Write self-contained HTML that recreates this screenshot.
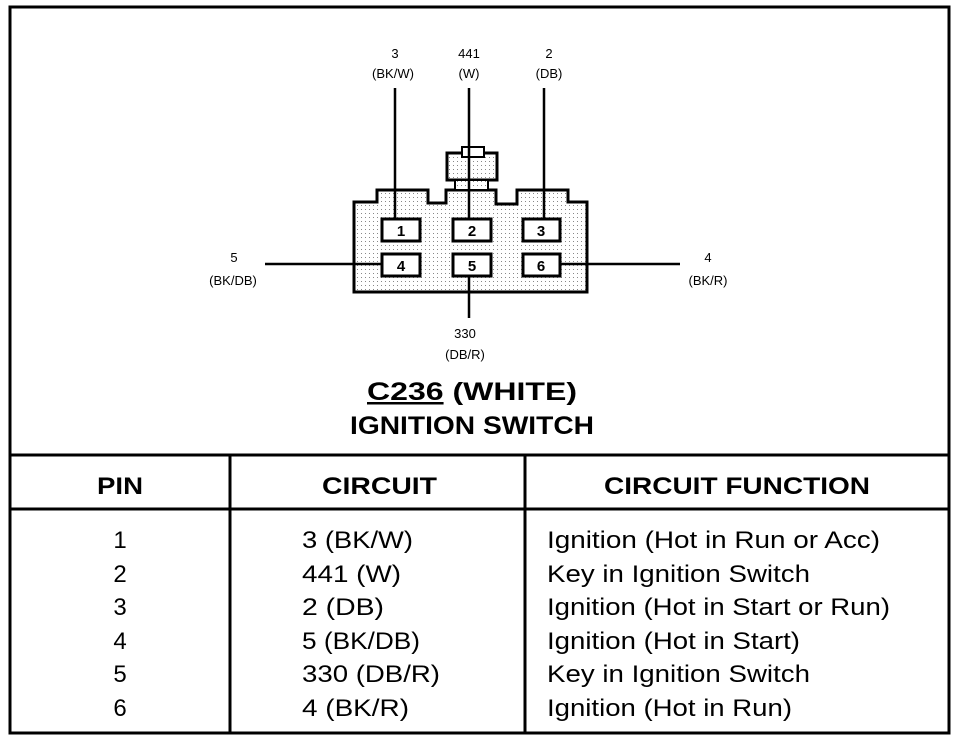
<!DOCTYPE html>
<html><head><style>
body{margin:0;background:#fff}
svg{display:block}
text{font-family:"Liberation Sans",sans-serif;fill:#000}
</style></head><body>
<svg width="960" height="740" viewBox="0 0 960 740">
<defs>
<pattern id="dots" width="4" height="4" patternUnits="userSpaceOnUse">
<rect width="4" height="4" fill="#fff"/><rect x="1" y="1" width="1" height="1" fill="#888"/>
</pattern>
</defs>
<rect x="10" y="7" width="939" height="726" fill="none" stroke="#000" stroke-width="3"/>
<path d="M354,202 L377,202 L377,190 L428,190 L428,203 L446,203 L446,190 L496,190 L496,204 L517,204 L517,190 L568,190 L568,202 L587,202 L587,292 L354,292 Z" fill="url(#dots)" stroke="#000" stroke-width="3"/>
<rect x="447" y="153" width="50" height="27" fill="url(#dots)" stroke="#000" stroke-width="3"/>
<rect x="455" y="180" width="33" height="10" fill="url(#dots)" stroke="#000" stroke-width="2"/>
<rect x="462" y="147" width="22" height="10" fill="#fff" stroke="#000" stroke-width="2"/>
<g stroke="#000" stroke-width="2.5">
<line x1="395" y1="88" x2="395" y2="218"/>
<line x1="469" y1="88" x2="469" y2="218"/>
<line x1="544" y1="88" x2="544" y2="218"/>
<line x1="265" y1="264" x2="381" y2="264"/>
<line x1="561" y1="264" x2="680" y2="264"/>
<line x1="469" y1="277" x2="469" y2="318"/>
</g>
<g fill="#fff" stroke="#000" stroke-width="3">
<rect x="382" y="219" width="38" height="22"/>
<rect x="453" y="219" width="38" height="22"/>
<rect x="523" y="219" width="37" height="22"/>
<rect x="382" y="254" width="38" height="22"/>
<rect x="453" y="254" width="38" height="22"/>
<rect x="523" y="254" width="37" height="22"/>
</g>
<g font-size="15" font-weight="bold" text-anchor="middle">
<text x="401" y="236">1</text><text x="472" y="236">2</text><text x="541" y="236">3</text>
<text x="401" y="271">4</text><text x="472" y="271">5</text><text x="541" y="271">6</text>
</g>
<g font-size="13" text-anchor="middle">
<text x="395" y="58">3</text><text x="393" y="78">(BK/W)</text>
<text x="469" y="58">441</text><text x="469" y="78">(W)</text>
<text x="549" y="58">2</text><text x="549" y="78">(DB)</text>
<text x="234" y="262">5</text><text x="233" y="285">(BK/DB)</text>
<text x="708" y="262">4</text><text x="708" y="285">(BK/R)</text>
<text x="465" y="338">330</text><text x="465" y="359">(DB/R)</text>
</g>
<g font-size="25" font-weight="bold" lengthAdjust="spacingAndGlyphs">
<text x="367" y="400" textLength="210" lengthAdjust="spacingAndGlyphs"><tspan text-decoration="underline">C236</tspan>  (WHITE)</text>
<text x="350" y="434" textLength="244" lengthAdjust="spacingAndGlyphs">IGNITION SWITCH</text>
</g>
<g stroke="#000" stroke-width="3">
<line x1="10" y1="455" x2="949" y2="455"/>
<line x1="10" y1="509" x2="949" y2="509"/>
<line x1="230" y1="455" x2="230" y2="733"/>
<line x1="525" y1="455" x2="525" y2="733"/>
</g>
<g font-size="24" font-weight="bold">
<text x="97" y="494" textLength="46" lengthAdjust="spacingAndGlyphs">PIN</text>
<text x="322" y="494" textLength="115" lengthAdjust="spacingAndGlyphs">CIRCUIT</text>
<text x="604" y="494" textLength="266" lengthAdjust="spacingAndGlyphs">CIRCUIT FUNCTION</text>
</g>
<g font-size="24" text-anchor="middle">
<text x="120" y="548">1</text><text x="120" y="582">2</text><text x="120" y="615">3</text>
<text x="120" y="649">4</text><text x="120" y="682">5</text><text x="120" y="716">6</text>
</g>
<g font-size="24">
<text x="302" y="548" textLength="111" lengthAdjust="spacingAndGlyphs">3 (BK/W)</text>
<text x="302" y="582" textLength="99" lengthAdjust="spacingAndGlyphs">441 (W)</text>
<text x="302" y="615" textLength="82" lengthAdjust="spacingAndGlyphs">2 (DB)</text>
<text x="302" y="649" textLength="118" lengthAdjust="spacingAndGlyphs">5 (BK/DB)</text>
<text x="302" y="682" textLength="138" lengthAdjust="spacingAndGlyphs">330 (DB/R)</text>
<text x="302" y="716" textLength="107" lengthAdjust="spacingAndGlyphs">4 (BK/R)</text>
<text x="547" y="548" textLength="333" lengthAdjust="spacingAndGlyphs">Ignition (Hot in Run or Acc)</text>
<text x="547" y="582" textLength="263" lengthAdjust="spacingAndGlyphs">Key in Ignition Switch</text>
<text x="547" y="615" textLength="343" lengthAdjust="spacingAndGlyphs">Ignition (Hot in Start or Run)</text>
<text x="547" y="649" textLength="253" lengthAdjust="spacingAndGlyphs">Ignition (Hot in Start)</text>
<text x="547" y="682" textLength="263" lengthAdjust="spacingAndGlyphs">Key in Ignition Switch</text>
<text x="547" y="716" textLength="245" lengthAdjust="spacingAndGlyphs">Ignition (Hot in Run)</text>
</g>
</svg>
</body></html>
